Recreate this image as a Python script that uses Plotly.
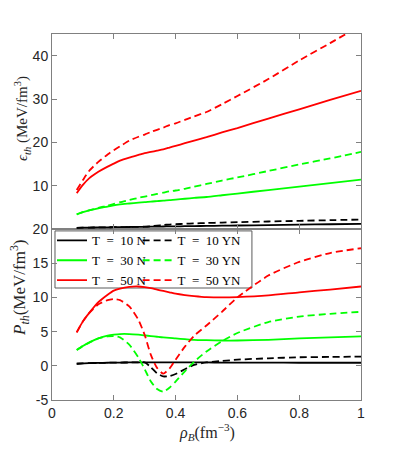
import plotly.graph_objects as go

# densidade bariônica (fm^-3) comum a todas as curvas
rho = [0.08, 0.10, 0.12, 0.15, 0.18, 0.20, 0.22, 0.25, 0.28, 0.30, 0.32, 0.34,
       0.36, 0.38, 0.40, 0.43, 0.46, 0.50, 0.55, 0.60, 0.70, 0.80, 0.90, 1.00]

# energia térmica eps_th (MeV/fm^3) - painel superior
eps_10_N = [0.30, 0.32, 0.35, 0.38, 0.41, 0.43, 0.45, 0.48, 0.51, 0.53, 0.55, 0.57,
            0.59, 0.61, 0.63, 0.66, 0.69, 0.73, 0.78, 0.83, 0.92, 1.02, 1.11, 1.20]
eps_10_YN = [0.30, 0.32, 0.35, 0.38, 0.41, 0.43, 0.45, 0.48, 0.51, 0.55, 0.65, 0.80,
             0.95, 1.05, 1.12, 1.22, 1.30, 1.40, 1.50, 1.60, 1.75, 1.90, 2.05, 2.20]
eps_30_N = [3.4, 3.9, 4.3, 4.8, 5.2, 5.5, 5.7, 5.9, 6.1, 6.2, 6.35, 6.45,
            6.55, 6.7, 6.8, 7.0, 7.2, 7.4, 7.8, 8.2, 9.0, 9.8, 10.6, 11.4]
eps_30_YN = [3.4, 3.9, 4.3, 4.9, 5.4, 5.8, 6.2, 6.7, 7.2, 7.5, 7.8, 8.1,
             8.4, 8.7, 8.9, 9.3, 9.8, 10.4, 11.2, 11.9, 13.4, 14.9, 16.3, 17.8]
eps_50_N = [8.3, 10.2, 11.7, 13.2, 14.4, 15.1, 15.8, 16.5, 17.1, 17.5, 17.8, 18.1,
            18.4, 18.8, 19.2, 19.8, 20.4, 21.2, 22.3, 23.3, 25.5, 27.6, 29.8, 31.9]
eps_50_YN = [9.0, 11.3, 13.4, 15.5, 17.2, 18.2, 19.1, 20.4, 21.3, 21.8, 22.4, 22.9,
             23.4, 24.0, 24.4, 25.2, 26.0, 27.0, 28.8, 30.7, 34.6, 38.9, 42.9, 47.0]

# pressão térmica P_th (MeV/fm^3) - painel inferior
p_10_N = [0.30, 0.35, 0.40, 0.42, 0.45, 0.47, 0.48, 0.49, 0.50, 0.50, 0.50, 0.50,
          0.50, 0.50, 0.50, 0.50, 0.50, 0.49, 0.48, 0.47, 0.46, 0.45, 0.45, 0.45]
p_10_YN = [0.30, 0.35, 0.40, 0.42, 0.45, 0.47, 0.48, 0.49, 0.50, 0.50, -0.2, -1.1,
           -1.55, -1.5, -1.2, -0.5, 0.15, 0.5, 0.7, 0.9, 1.1, 1.25, 1.3, 1.35]
p_30_N = [2.3, 2.9, 3.4, 4.0, 4.4, 4.55, 4.65, 4.65, 4.55, 4.45, 4.35, 4.25,
          4.15, 4.1, 4.0, 3.9, 3.8, 3.75, 3.7, 3.7, 3.8, 4.0, 4.15, 4.3]
p_30_YN = [2.3, 2.9, 3.4, 4.0, 4.3, 4.35, 4.15, 3.1, 1.2, -0.5, -2.3, -3.4,
           -3.8, -3.2, -2.3, -0.8, 0.6, 2.1, 3.6, 4.8, 6.4, 7.2, 7.6, 7.9]
p_50_N = [4.9, 6.5, 7.7, 9.3, 10.4, 11.0, 11.3, 11.55, 11.6, 11.5, 11.35, 11.15,
          10.95, 10.75, 10.55, 10.35, 10.2, 10.05, 10.0, 10.05, 10.3, 10.75, 11.15, 11.6]
p_50_YN = [4.9, 6.5, 7.7, 9.0, 9.6, 9.75, 9.6, 8.7, 6.7, 4.5, 1.6, -0.3,
           -1.15, -0.4, 0.9, 2.8, 4.4, 5.9, 7.9, 10.0, 13.2, 15.2, 16.5, 17.2]

# marcas dos eixos
x_ticks = [0, 0.2, 0.4, 0.6, 0.8, 1]
x_labels = ["0", "0.2", "0.4", "0.6", "0.8", "1"]
p_ticks = [-5, 0, 5, 10, 15, 20]
p_labels = ["-5", "0", "5", "10", "15", "20"]
eps_ticks = [10, 20, 30, 40]

SERIF = "Liberation Serif"
SANS = "Liberation Sans"
EIXO = "#808080"
DASH = "7px,4px"

series = [
    ("T\u2002=\u200210 N", "#000000", "solid", eps_10_N, p_10_N, "legend"),
    ("T\u2002=\u200230 N", "#00ff00", "solid", eps_30_N, p_30_N, "legend"),
    ("T\u2002=\u200250 N", "#ff0000", "solid", eps_50_N, p_50_N, "legend"),
    ("T\u2002=\u200210 YN", "#000000", DASH, eps_10_YN, p_10_YN, "legend2"),
    ("T\u2002=\u200230 YN", "#00ff00", DASH, eps_30_YN, p_30_YN, "legend2"),
    ("T\u2002=\u200250 YN", "#ff0000", DASH, eps_50_YN, p_50_YN, "legend2"),
]

fig = go.Figure()
for nome, cor, estilo, eps, p, leg in series:
    linha = dict(color=cor, width=1.8, dash=estilo, shape="spline", smoothing=0.6)
    fig.add_trace(go.Scatter(x=rho, y=eps, mode="lines", line=linha,
                             xaxis="x2", yaxis="y2", showlegend=False))
    fig.add_trace(go.Scatter(x=rho, y=p, mode="lines", line=linha, name=nome,
                             xaxis="x", yaxis="y", legend=leg))

eixo = dict(showline=True, linecolor=EIXO, linewidth=1, mirror="ticks",
            ticks="inside", ticklen=5, tickcolor=EIXO, showgrid=False,
            zeroline=False, tickfont=dict(family=SANS, size=14, color="#262626"))

DIV = 0.467
fonte_leg = dict(family=SERIF, size=13, color="#000000")
fig.update_layout(
    # a página tem margem de 8px no body: figura menor para caber na janela
    width=383, height=442,
    margin=dict(l=44, r=30, t=26, b=50),
    paper_bgcolor="white", plot_bgcolor="rgba(0,0,0,0)",
    xaxis=dict(eixo, domain=[0, 1], anchor="y", range=[0, 1],
               tickvals=x_ticks, ticktext=x_labels),
    yaxis=dict(eixo, domain=[0, DIV], anchor="x", range=[-5, 20],
               tickvals=p_ticks, ticktext=p_labels),
    xaxis2=dict(eixo, domain=[0, 1], anchor="y2", range=[0, 1], matches="x",
                tickvals=x_ticks, showticklabels=False),
    yaxis2=dict(eixo, domain=[DIV, 1], anchor="x2", range=[0, 45],
                tickvals=eps_ticks),
    legend=dict(x=0.0, y=0.477, xanchor="left", yanchor="top",
                bgcolor="rgba(0,0,0,0)", borderwidth=0, tracegroupgap=0, font=fonte_leg),
    legend2=dict(x=0.277, y=0.477, xanchor="left", yanchor="top",
                 bgcolor="rgba(0,0,0,0)", borderwidth=0, tracegroupgap=0, font=fonte_leg),
    shapes=[dict(type="rect", xref="paper", yref="paper",
                 x0=0.0097, x1=0.647, y0=0.306, y1=0.462,
                 line=dict(color="#5a5a5a", width=1), fillcolor="white", layer="below")],
    annotations=[
        dict(text="<i>\u03f5</i><sub><i>th</i></sub> (MeV/fm<sup>3</sup>)",
             xref="paper", yref="paper", x=-0.097, y=0.768, textangle=-90,
             showarrow=False, xanchor="center", yanchor="middle",
             font=dict(family=SERIF, size=15, color="#262626")),
        dict(text="<i>P</i><sub><i>th</i></sub>(MeV/fm<sup>3</sup>)",
             xref="paper", yref="paper", x=-0.107, y=0.306, textangle=-90,
             showarrow=False, xanchor="center", yanchor="middle",
             font=dict(family=SERIF, size=17, color="#262626")),
        dict(text="<i>\u03c1</i><sub><i>B</i></sub>(fm<sup>\u22123</sup>)",
             xref="paper", yref="paper", x=0.5, y=-0.087,
             showarrow=False, xanchor="center", yanchor="middle",
             font=dict(family=SERIF, size=16, color="#262626")),
    ],
)

fig.write_html("out.html")
